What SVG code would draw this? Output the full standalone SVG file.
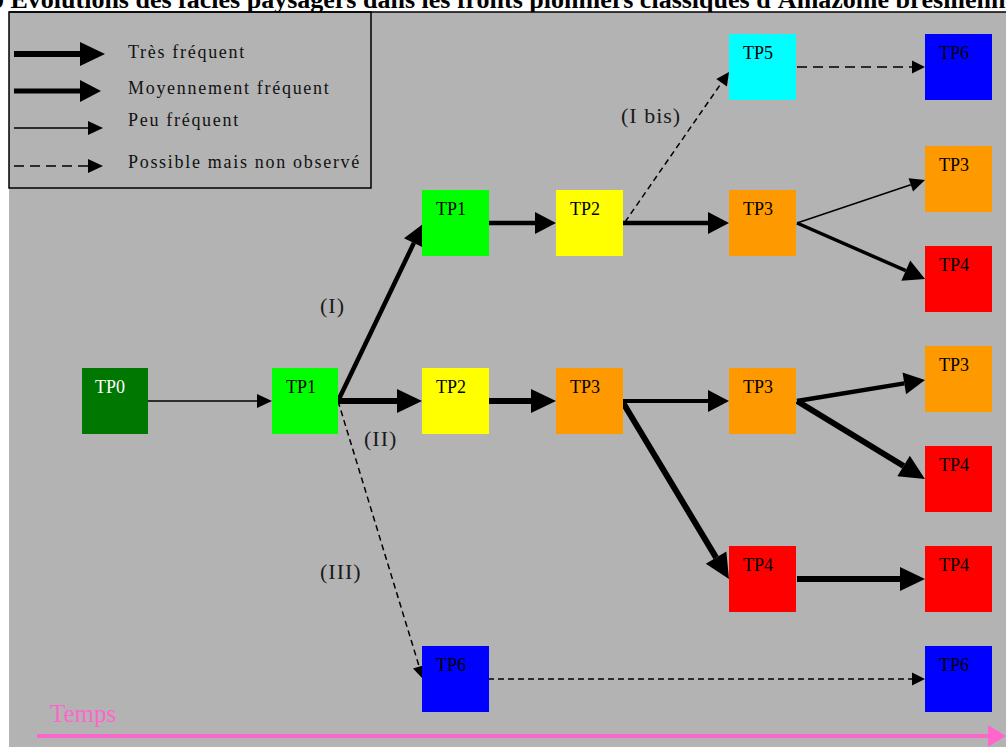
<svg xmlns="http://www.w3.org/2000/svg" width="1006" height="747" viewBox="0 0 1006 747">
<style>
  .serif{font-family:"Liberation Serif","Times New Roman",serif}
  .title{font-size:26px;font-weight:bold;fill:#000}
  .leg{font-size:18px;letter-spacing:1.7px;fill:#111}
  .lbl{font-size:22px;letter-spacing:1px;fill:#1a1a1a}
  .node text{font-family:"Liberation Serif","Times New Roman",serif;font-size:18px;fill:#000}
  .c{stroke:#000;fill:none}
  .big{stroke-width:6;marker-end:url(#hBig)}
  .med{stroke-width:4.5;marker-end:url(#hMed)}
  .thin{stroke-width:1.5;marker-end:url(#hSm)}
  .dsh{stroke-width:1.5;stroke-dasharray:6 4;marker-end:url(#hDash)}
  .dshL{stroke-width:1.5;stroke-dasharray:10 6;marker-end:url(#hDash)}
</style>
<defs>
  <marker id="hBig" markerUnits="userSpaceOnUse" viewBox="0 0 25 24" markerWidth="25" markerHeight="24" refX="0" refY="12" orient="auto" overflow="visible"><path d="M0,0 L25,12 L0,24 z" fill="#000"/></marker>
  <marker id="hMed" markerUnits="userSpaceOnUse" viewBox="0 0 21 22" markerWidth="21" markerHeight="22" refX="0" refY="11" orient="auto" overflow="visible"><path d="M0,0 L21,11 L0,22 z" fill="#000"/></marker>
  <marker id="hSm" markerUnits="userSpaceOnUse" viewBox="0 0 15 14" markerWidth="15" markerHeight="14" refX="0" refY="7" orient="auto" overflow="visible"><path d="M0,0 L15,7 L0,14 z" fill="#000"/></marker>
  <marker id="hDash" markerUnits="userSpaceOnUse" viewBox="0 0 13 13" markerWidth="13" markerHeight="13" refX="0" refY="6.5" orient="auto" overflow="visible"><path d="M0,0 L13,6.5 L0,13 z" fill="#000"/></marker>
</defs>

<rect width="1006" height="747" fill="#fff"/>
<text class="serif title" x="-22" y="8">30 Évolutions des faciès paysagers dans les fronts pionniers classiques d'Amazonie brésilienne</text>
<rect x="9" y="12" width="997" height="735" fill="#b3b3b3"/>
<line x1="9" y1="12" x2="1006" y2="12" stroke="#000" stroke-width="1.5"/>

<g id="legend">
  <rect x="9" y="12" width="362" height="176" fill="none" stroke="#000" stroke-width="1.5"/>
  <path class="c big" d="M14,54 H80"/>
  <path class="c" d="M14,91 H80" stroke-width="5" marker-end="url(#hMed)"/>
  <path class="c thin" d="M14,128 H88"/>
  <path class="c" d="M14,166 H88" stroke-width="1.5" stroke-dasharray="10 6" marker-end="url(#hSm)"/>
  <text class="serif leg" x="128" y="58">Très fréquent</text>
  <text class="serif leg" x="128" y="94">Moyennement fréquent</text>
  <text class="serif leg" x="128" y="126">Peu fréquent</text>
  <text class="serif leg" x="128" y="168">Possible mais non observé</text>
</g>

<g id="connectors">
  <path class="c thin" d="M148,401 H257"/>
  <path class="c med" d="M338,401 L413.9,242.9"/>
  <path class="c big" d="M338,401 H397"/>
  <path class="c dsh" d="M338,401 L419.2,666.6"/>
  <path class="c med" d="M488,223 H535"/>
  <path class="c big" d="M488,401 H531" stroke-width="5.5"/>
  <path class="c med" d="M622,223 H708"/>
  <path class="c dsh" d="M625,222 L721.6,82.7"/>
  <path class="c dshL" d="M797,67 H912"/>
  <path class="c thin" d="M797,223 L910.8,184.8"/>
  <path class="c" d="M797,223 L905.8,270.6" stroke-width="3.5" marker-end="url(#hMed)"/>
  <path class="c" d="M622,401 H708" stroke-width="4" marker-end="url(#hMed)"/>
  <path class="c big" d="M622,401 L716.1,557.6"/>
  <path class="c med" d="M797,401 L904.3,383.4"/>
  <path class="c big" d="M797,401 L903.6,466" stroke-width="7"/>
  <path class="c big" d="M797,579 H900" stroke-width="5.5"/>
  <path class="c dsh" d="M488,679 H912"/>
</g>

<g id="labels" class="serif lbl">
  <text x="320" y="313">(I)</text>
  <text x="364" y="446">(II)</text>
  <text x="320" y="579">(III)</text>
  <text x="621" y="123">(I bis)</text>
</g>

<g id="tp0" class="node"><rect x="82" y="368" width="66" height="66" fill="#007700"/><text x="95" y="393" style="fill:#fff">TP0</text></g>
<g id="tp1-a" class="node"><rect x="272" y="368" width="66" height="66" fill="#00ff00"/><text x="286" y="393">TP1</text></g>
<g id="tp1-b" class="node"><rect x="422" y="190" width="67" height="66" fill="#00ff00"/><text x="436" y="215">TP1</text></g>
<g id="tp2-a" class="node"><rect x="556" y="190" width="67" height="66" fill="#ffff00"/><text x="570" y="215">TP2</text></g>
<g id="tp2-b" class="node"><rect x="422" y="368" width="67" height="66" fill="#ffff00"/><text x="436" y="393">TP2</text></g>
<g id="tp3-a" class="node"><rect x="556" y="368" width="67" height="66" fill="#ff9900"/><text x="570" y="393">TP3</text></g>
<g id="tp5" class="node"><rect x="729" y="34" width="67" height="66" fill="#00ffff"/><text x="743" y="59">TP5</text></g>
<g id="tp3-b" class="node"><rect x="729" y="190" width="67" height="66" fill="#ff9900"/><text x="743" y="215">TP3</text></g>
<g id="tp3-c" class="node"><rect x="729" y="368" width="67" height="66" fill="#ff9900"/><text x="743" y="393">TP3</text></g>
<g id="tp4-a" class="node"><rect x="729" y="546" width="67" height="66" fill="#ff0000"/><text x="743" y="571">TP4</text></g>
<g id="tp6-a" class="node"><rect x="925" y="34" width="67" height="66" fill="#0000ff"/><text x="939" y="59">TP6</text></g>
<g id="tp3-d" class="node"><rect x="925" y="146" width="67" height="66" fill="#ff9900"/><text x="939" y="171">TP3</text></g>
<g id="tp4-b" class="node"><rect x="925" y="246" width="67" height="66" fill="#ff0000"/><text x="939" y="271">TP4</text></g>
<g id="tp3-e" class="node"><rect x="925" y="346" width="67" height="66" fill="#ff9900"/><text x="939" y="371">TP3</text></g>
<g id="tp4-c" class="node"><rect x="925" y="446" width="67" height="66" fill="#ff0000"/><text x="939" y="471">TP4</text></g>
<g id="tp4-d" class="node"><rect x="925" y="546" width="67" height="66" fill="#ff0000"/><text x="939" y="571">TP4</text></g>
<g id="tp6-b" class="node"><rect x="422" y="646" width="67" height="66" fill="#0000ff"/><text x="436" y="671">TP6</text></g>
<g id="tp6-c" class="node"><rect x="925" y="646" width="67" height="66" fill="#0000ff"/><text x="939" y="671">TP6</text></g>

<g id="time-axis">
  <text class="serif" x="50" y="722" font-size="25" fill="#ff66cc">Temps</text>
  <line x1="37" y1="736" x2="989" y2="736" stroke="#ff66cc" stroke-width="4"/>
  <polygon points="988,725 1006,736 988,747" fill="#ff66cc"/>
</g>
</svg>
